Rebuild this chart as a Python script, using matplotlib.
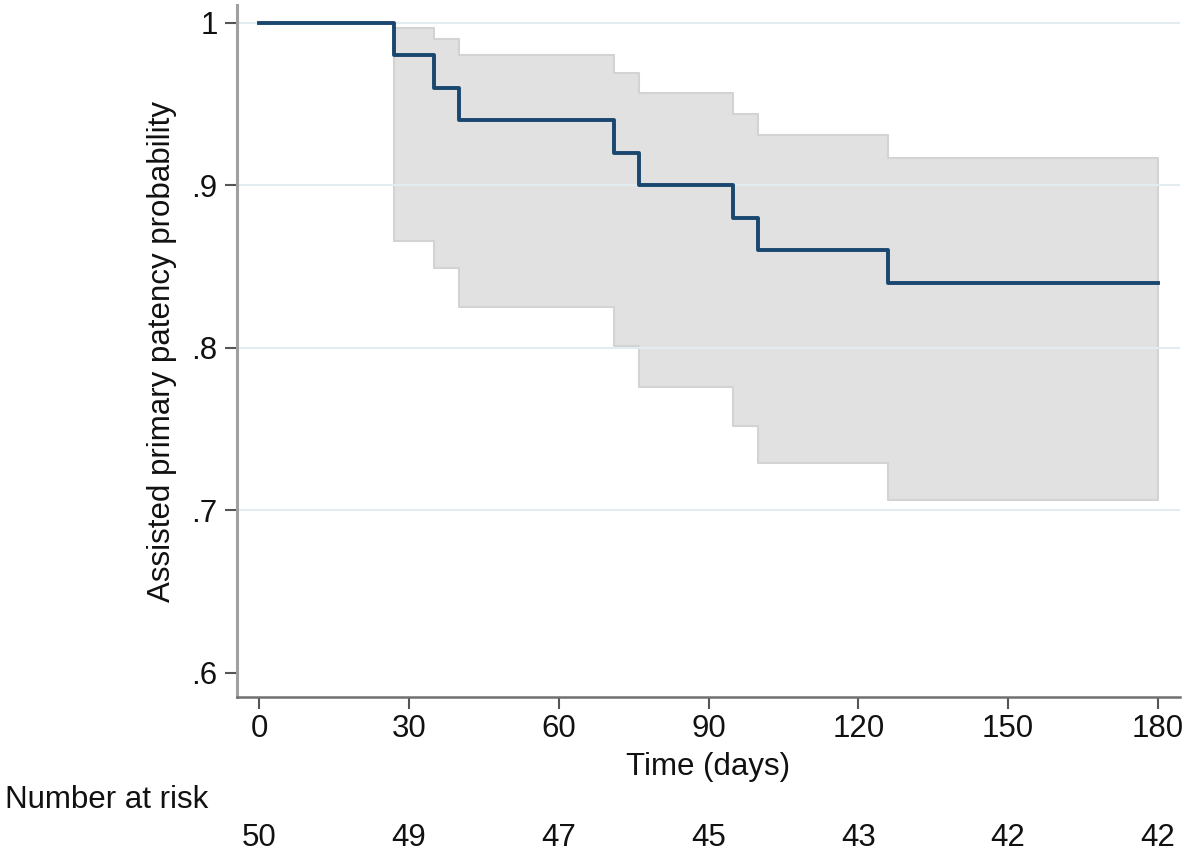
import numpy as np
import matplotlib
matplotlib.use('Agg')
import matplotlib.pyplot as plt
from matplotlib.transforms import blended_transform_factory

plt.rcParams['font.family'] = ['Liberation Sans', 'DejaVu Sans']

# Kaplan-Meier estimate
km_time = [0, 27, 35, 40, 71, 76, 95, 100, 126, 180]
km_surv = [1.0, 0.98, 0.96, 0.94, 0.92, 0.90, 0.88, 0.86, 0.84, 0.84]

# 95% confidence band, starts at the first event
ci_time = [27, 35, 40, 71, 76, 95, 100, 126, 180]
ci_lower = [0.866, 0.849, 0.825, 0.801, 0.776, 0.752, 0.729, 0.706, 0.706]
ci_upper = [0.997, 0.990, 0.980, 0.969, 0.957, 0.944, 0.931, 0.917, 0.917]

x_ticks = [0, 30, 60, 90, 120, 150, 180]
y_ticks = [0.6, 0.7, 0.8, 0.9, 1.0]
y_tick_labels = ['.6', '.7', '.8', '.9', '1']
grid_levels = [0.7, 0.8, 0.9, 1.0]
at_risk = [50, 49, 47, 45, 43, 42, 42]

W, H = 1189, 858
fig = plt.figure(figsize=(W / 100, H / 100), dpi=100)
# axes box in pixels: left 237, right 1180, top 5, bottom 697
ax = fig.add_axes([237 / W, 1 - 697 / H, (1180 - 237) / W, (697 - 5) / H])

fs = 22.5
navy = '#1a476f'

ax.fill_between(ci_time, ci_lower, ci_upper, step='post',
                facecolor='#e1e1e1', edgecolor='#d3d3d3', linewidth=1.5, zorder=1)
for g in grid_levels:
    ax.axhline(g, color='#e3ecef', linewidth=1.5, zorder=2)
ax.step(km_time, km_surv, where='post', color=navy, linewidth=2.8, zorder=3)

ax.set_xlim(-4.4, 184.4)
ax.set_ylim(0.585, 1.011)
ax.set_xticks(x_ticks)
ax.set_yticks(y_ticks)
ax.set_yticklabels(y_tick_labels)
ax.tick_params(axis='both', labelsize=fs, length=8.5, width=1.5, color='#555555',
               labelcolor='#111111')
ax.tick_params(axis='y', pad=5.5)
ax.tick_params(axis='x', pad=4)

for side in ['top', 'right']:
    ax.spines[side].set_visible(False)
ax.spines['left'].set_color('#a0a0a0')
ax.spines['left'].set_linewidth(2.2)
ax.spines['bottom'].set_color('#707070')
ax.spines['bottom'].set_linewidth(1.8)

ax.set_ylabel('Assisted primary patency probability', fontsize=fs, color='#111111')
ax.yaxis.set_label_coords(-0.0636, 0.5)
ax.set_xlabel('Time (days)', fontsize=fs, color='#111111')
ax.xaxis.set_label_coords(0.5, -0.079)

# number at risk table
fig.text(5 / W, 1 - 800 / H, 'Number at risk', fontsize=fs, ha='left', va='center',
         color='#111111')
tr = blended_transform_factory(ax.transData, fig.transFigure)
for t, n in zip(x_ticks, at_risk):
    ax.text(t, 1 - 838 / H, str(n), transform=tr, fontsize=fs, ha='center',
            va='center', color='#111111', clip_on=False)

fig.savefig('out.png', dpi=100, facecolor='white')
